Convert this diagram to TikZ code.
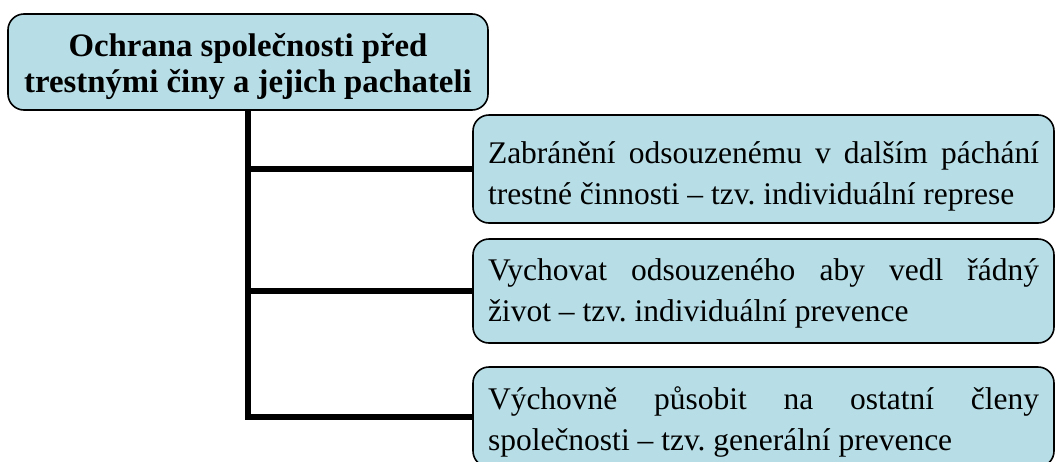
\documentclass[tikz,border=0pt]{standalone}
\usepackage{fontspec}
\setmainfont{Liberation Serif}
\definecolor{boxfill}{RGB}{183,222,230}
\frenchspacing
\begin{document}
\begin{tikzpicture}[x=1pt,y=-1pt,
  box/.style={draw=black, line width=1.6pt, fill=boxfill, rounded corners=16pt, inner sep=0pt},
  conn/.style={line width=5.5pt, line join=miter, line cap=butt},
  toptext/.style={inner sep=0pt, align=center, font=\fontsize{32.8}{36}\selectfont\bfseries},
  subtext/.style={inner sep=0pt, text width=551pt, align=justify, font=\fontsize{31.5}{41}\selectfont}]
\useasboundingbox (0,0) rectangle (1056,461);
\clip (0,0) rectangle (1056,461);
\node[box, minimum width=480pt, minimum height=96pt] (top) at (248,62) {};
\node[box, minimum width=581pt, minimum height=108pt] (b1) at (763.5,169) {};
\node[box, minimum width=581pt, minimum height=104pt] (b2) at (763.5,291) {};
\node[box, minimum width=581pt, minimum height=100pt] (b3) at (763.5,417) {};
\node[toptext] (toplbl) at ([yshift=-4pt]top.center) {Ochrana společnosti před\\trestnými činy a jejich pachateli};
\node[subtext] (b1lbl) at ([yshift=-7pt]b1.center) {Zabránění odsouzenému v~dalším páchání\linebreak trestné činnosti – tzv. individuální represe};
\node[subtext] (b2lbl) at ([yshift=-2pt]b2.center) {Vychovat odsouzeného aby vedl řádný\linebreak život – tzv. individuální prevence};
\node[subtext] (b3lbl) at ([yshift=-5pt]b3.center) {Výchovně působit na ostatní členy\linebreak společnosti – tzv. generální prevence};
\draw[conn] (top.south) |- (b3.west);
\draw[conn] (top.south |- b1.west) -- (b1.west);
\draw[conn] (top.south |- b2.west) -- (b2.west);
\end{tikzpicture}
\end{document}
